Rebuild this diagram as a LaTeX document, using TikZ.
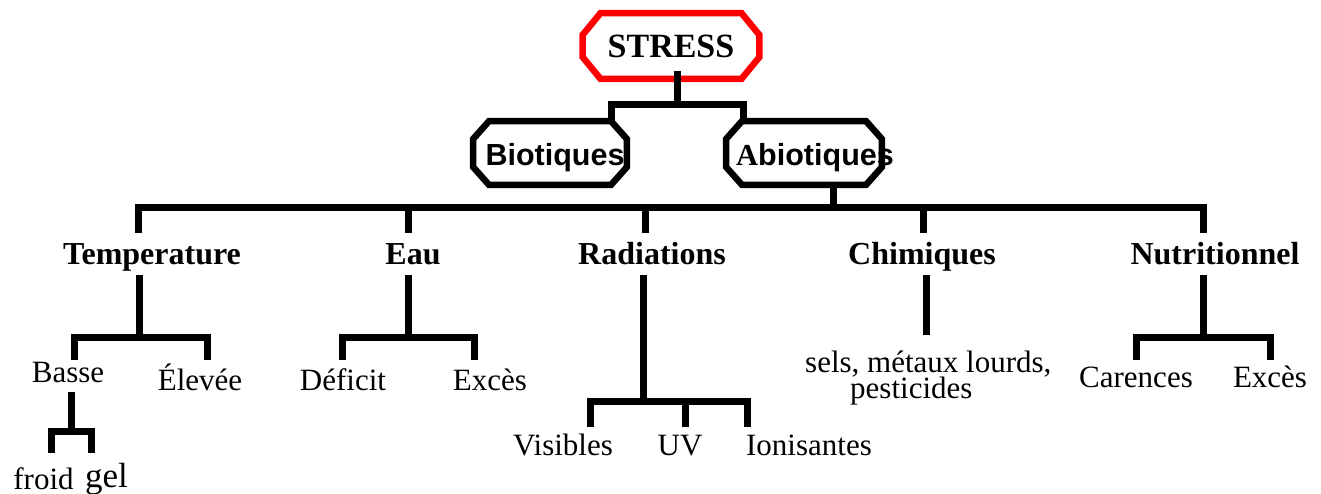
\documentclass[tikz,border=0pt]{standalone}
\usepackage{fontspec}
\setmainfont{Liberation Serif}
\newfontfamily\arialf{Liberation Sans}
\newcommand\octpath[4]{%
 \draw[#4, line width=6.5pt, line join=miter] ([xshift=#2]#1.north west) -- ([xshift=-#2]#1.north east) -- ([yshift=-#3]#1.north east) -- ([yshift=#3]#1.south east) -- ([xshift=-#2]#1.south east) -- ([xshift=#2]#1.south west) -- ([yshift=#3]#1.south west) -- ([yshift=-#3]#1.north west) -- cycle;}
\begin{document}
\begin{tikzpicture}[x=1pt,y=-1pt,
 conn/.style={line width=7pt, line join=miter, line cap=butt},
 head/.style={font=\fontsize{32}{36}\selectfont\bfseries, anchor=base, inner xsep=0pt, inner ysep=10pt, text height=22pt, text depth=0pt},
 leaf/.style={font=\fontsize{31}{34}\selectfont, anchor=base, inner xsep=0pt, inner ysep=2pt, text height=20pt, text depth=0pt},
 octbox/.style={inner sep=0pt, minimum width=#1, minimum height=63.5pt}]
\useasboundingbox (0,0) rectangle (1321,494);
% boxes
\node[inner sep=0pt, minimum width=176.5pt, minimum height=65.5pt, font=\fontsize{34}{36}\selectfont\bfseries] (stress) at (671,46) {STRESS};
\node[octbox=153.5pt] (bio) at (550,153) {};
\node[octbox=155.5pt] (abio) at (804,153) {};
\octpath{stress}{18pt}{22pt}{red}
\octpath{bio}{16pt}{18pt}{black}
\octpath{abio}{16pt}{18pt}{black}
\node[anchor=base, inner sep=0pt, font=\arialf\fontsize{30.5}{34}\selectfont\bfseries] (biot) at (555,166) {Biotiques};
\node[anchor=base, inner sep=0pt, font=\arialf\fontsize{30.5}{34}\selectfont\bfseries] (abiot) at (815,166) {{\rmfamily A}biotiques};
% heads
\node[head] (temp) at (152,265) {Temperature};
\node[head] (eau) at (413,265) {Eau};
\node[head] (rad) at (652,265) {Radiations};
\node[head] (chim) at (922,265) {Chimiques};
\node[head] (nutr) at (1215,265) {Nutritionnel};
% leaves
\node[leaf] (basse) at (68,382) {Basse};
\node[leaf] (elev) at (200,390) {Élevée};
\node[leaf] (froid) at (43.5,489) {froid};
\node[leaf, font=\fontsize{35}{38}\selectfont] (gel) at (106.5,487) {gel};
\node[leaf] (defi) at (343,390) {Déficit};
\node[leaf] (exc1) at (490,390) {Excès};
\node[leaf] (vis) at (563,455) {Visibles};
\node[leaf] (uv) at (680,455) {UV};
\node[leaf] (ion) at (809,455) {Ionisantes};
\node[leaf, anchor=base west] (sels1) at (805,372) {sels, métaux lourds,};
\node[leaf, anchor=base west] (sels2) at (850,398) {pesticides};
\node[leaf] (car) at (1136,387) {Carences};
\node[leaf] (exc2) at (1270,387) {Excès};
% connectors
\coordinate (j1) at (677,105);
\draw[conn] ([xshift=6pt,yshift=8pt]stress.south) -- (j1);
\draw[conn] ([xshift=61pt]bio.north) |- (j1) -| ([xshift=-61pt]abio.north);
\coordinate (mb) at (833,208);
\draw[conn] ([xshift=29pt]abio.south) -- (mb);
\draw[conn] ([xshift=-14pt]temp.north) |- (mb) -| ([xshift=-12pt]nutr.north);
\draw[conn] ([xshift=-5pt]eau.north) |- (mb);
\draw[conn] ([xshift=-7pt]rad.north) |- (mb);
\draw[conn] ([xshift=1pt]chim.north) |- (mb);
% temperature
\coordinate (tj) at (139,337);
\draw[conn] ([xshift=-13pt]temp.south) -- (tj);
\draw[conn] ([xshift=6pt]basse.north) |- (tj) -| ([xshift=7pt,yshift=8pt]elev.north);
\coordinate (bj) at (71.5,431.5);
\draw[conn] ([xshift=3.5pt,yshift=-8pt]basse.south) -- (bj);
\draw[conn] ([xshift=8pt,yshift=14pt]froid.north) |- (bj) -| ([xshift=-15pt,yshift=12pt]gel.north);
% eau
\coordinate (ej) at (408,337);
\draw[conn] ([xshift=-5pt]eau.south) -- (ej);
\draw[conn] ([xshift=-1pt,yshift=8pt]defi.north) |- (ej) -| ([xshift=-16pt,yshift=8pt]exc1.north);
% radiations
\coordinate (rj) at (643,401);
\draw[conn] ([xshift=-9pt]rad.south) -- (rj);
\draw[conn] ([xshift=27pt,yshift=6pt]vis.north) |- (rj) -| ([xshift=-62pt,yshift=6pt]ion.north);
\draw[conn] ([xshift=5pt,yshift=6pt]uv.north) |- (rj);
% chimiques
\coordinate (cj) at (926,335);
\draw[conn] ([xshift=4pt]chim.south) -- (cj);
% nutritionnel
\coordinate (nj) at (1203,337);
\draw[conn] ([xshift=-12pt]nutr.south) -- (nj);
\draw[conn] ([yshift=5pt]car.north) |- (nj) -| ([yshift=5pt]exc2.north);
\end{tikzpicture}
\end{document}
